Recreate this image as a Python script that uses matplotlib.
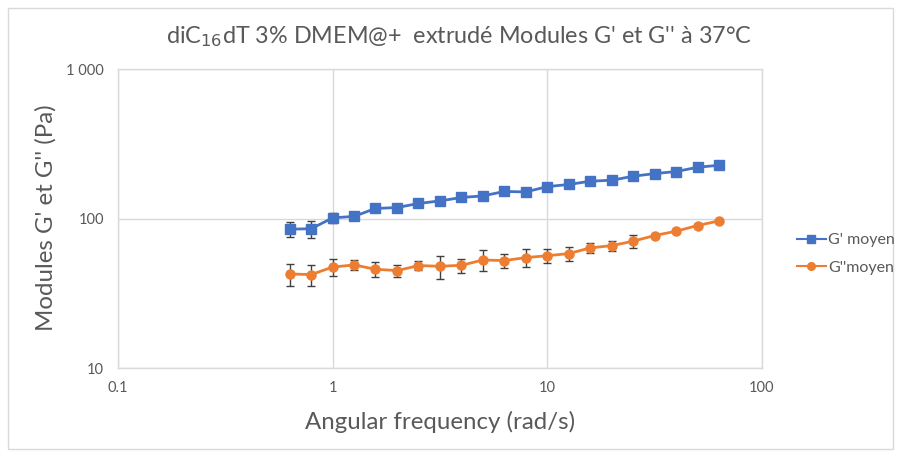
import matplotlib
matplotlib.use("Agg")
import matplotlib.pyplot as plt
import numpy as np
from matplotlib.patches import Rectangle
from matplotlib.ticker import FixedLocator, FixedFormatter, NullLocator

plt.rcParams["font.family"] = ["Lato", "DejaVu Sans"]

freq = [0.631, 0.794, 1.0, 1.26, 1.58, 2.0, 2.51, 3.16, 3.98, 5.01, 6.31,
        7.94, 10.0, 12.6, 15.8, 20.0, 25.1, 31.6, 39.8, 50.1, 63.1]
g_prime = [85.3, 86, 101.6, 104, 117.4, 119.2, 126.8, 132, 139.1, 142.6, 152.6,
           151.6, 164.5, 170, 178.7, 181.6, 193, 201, 207.5, 221.6, 228.7]
g_prime_err = [10, 11.5, 8, 3, 3, 3, 3, 3, 3, 3, 3,
               3, 3, 3, 3, 3, 4, 4, 12, 4, 4]
g_second = [42.8, 42.4, 47.6, 49.2, 46.0, 45.1, 48.7, 48.2, 48.9, 53.1, 52.6,
            55.1, 56.7, 58.6, 63.9, 66.3, 70.9, 77.4, 82.7, 90.3, 97]
g_second_err = [7, 7, 6, 4, 5.4, 4.3, 3.5, 8.5, 5.4, 8.4, 5.6,
                7.7, 6, 6.3, 4.6, 5, 6.7, 2, 2, 2, 2]

BLUE = "#4472C4"
ORANGE = "#ED7D31"
GRID = "#D9D9D9"
TXT = "#595959"

W, H = 901, 457
fig = plt.figure(figsize=(W / 100, H / 100), dpi=100)
ax = fig.add_axes([118 / W, 1 - 368.3 / H, (762 - 118) / W, (368.3 - 69.5) / H])

ax.errorbar(freq, g_prime, yerr=g_prime_err, fmt="none", ecolor="#404040",
            elinewidth=1, capsize=3, capthick=1, zorder=2)
ax.errorbar(freq, g_second, yerr=g_second_err, fmt="none", ecolor="#404040",
            elinewidth=1, capsize=3, capthick=1, zorder=2)
l1, = ax.plot(freq, g_prime, color=BLUE, lw=2, marker="s", ms=6.5, label="G' moyen", zorder=3)
l2, = ax.plot(freq, g_second, color=ORANGE, lw=2, marker="o", ms=6.5, label="G''moyen", zorder=3)

ax.set_xscale("log")
ax.set_yscale("log")
ax.set_xlim(0.1, 100)
ax.set_ylim(10, 1000)

ax.xaxis.set_major_locator(FixedLocator([0.1, 1, 10, 100]))
ax.xaxis.set_major_formatter(FixedFormatter(["0.1", "1", "10", "100"]))
ax.xaxis.set_minor_locator(NullLocator())
ax.yaxis.set_major_locator(FixedLocator([10, 100, 1000]))
ax.yaxis.set_major_formatter(FixedFormatter(["10", "100", "1 000"]))
ax.yaxis.set_minor_locator(NullLocator())

ax.grid(True, which="major", color=GRID, lw=1, zorder=0)
ax.set_axisbelow(True)
for s in ax.spines.values():
    s.set_color(GRID)
    s.set_linewidth(1)
ax.tick_params(axis="both", length=0, colors=TXT, labelsize=10.5, pad=9)
ax.tick_params(axis="y", pad=10)

fig.text(440 / W, 1 - 422 / H, "Angular frequency (rad/s)", ha="center", va="center",
         fontsize=17.3, color=TXT)
fig.text(46 / W, 1 - 218 / H, "Modules G' et G'' (Pa)", ha="center", va="center",
         rotation=90, fontsize=17.3, color=TXT)
fig.text(459 / W, 1 - 37 / H, "diC$_{16}$dT 3% DMEM@+  extrudé Modules G' et G'' à 37°C",
         ha="center", va="center", fontsize=16.8, color=TXT)

leg = fig.legend(handles=[l1, l2], loc="center left", bbox_to_anchor=(797 / W, 1 - 254 / H),
                 frameon=False, fontsize=11.5, labelcolor=TXT, handlelength=1.8,
                 handletextpad=0.15, labelspacing=0.85, borderaxespad=0, borderpad=0)
for h in leg.legend_handles:
    h.set_linewidth(1.5)
    h.set_markersize(5.5)

fig.add_artist(Rectangle((8 / W, 8 / H), 885 / W, 441 / H, transform=fig.transFigure,
                         fill=False, edgecolor=GRID, lw=1))

fig.savefig("out.png", dpi=100)
